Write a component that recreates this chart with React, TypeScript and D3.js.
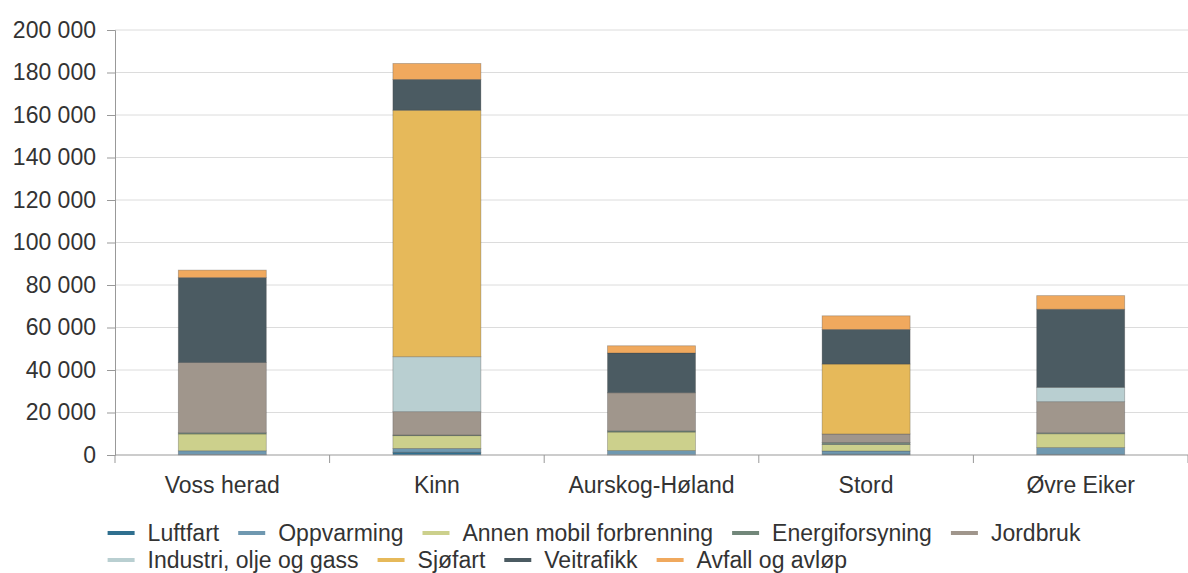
import React, { useEffect, useRef } from 'react';
import * as d3 from 'd3';

const categories = ['Voss herad', 'Kinn', 'Aurskog-Høland', 'Stord', 'Øvre Eiker'];
const seriesNames = [
  'Luftfart',
  'Oppvarming',
  'Annen mobil forbrenning',
  'Energiforsyning',
  'Jordbruk',
  'Industri, olje og gass',
  'Sjøfart',
  'Veitrafikk',
  'Avfall og avløp',
];
const seriesColors = [
  '#2f6f8f',
  '#6f98b0',
  '#ccd08c',
  '#72877a',
  '#a0968c',
  '#b9cfd1',
  '#e6b95a',
  '#4b5b62',
  '#f0a95e',
];
// one array per series, values per category
const luftfart = [200, 1300, 100, 400, 300];
const oppvarming = [1800, 1800, 2000, 1500, 3200];
const annenMobil = [7900, 6000, 8700, 3000, 6500];
const energi = [600, 300, 600, 1000, 500];
const jordbruk = [33000, 11000, 17900, 4000, 14600];
const industri = [0, 25850, 0, 0, 6750];
const sjofart = [0, 116000, 0, 32900, 0];
const veitrafikk = [40000, 14500, 18700, 16300, 36750];
const avfall = [3500, 7500, 3400, 6400, 6400];
const seriesValues = [luftfart, oppvarming, annenMobil, energi, jordbruk, industri, sjofart, veitrafikk, avfall];
const yTicks = [0, 20000, 40000, 60000, 80000, 100000, 120000, 140000, 160000, 180000, 200000];

const W = 1188;
const H = 573;
const FONT = '"Liberation Sans", Arial, sans-serif';
const FS = 23;

function StackedChart() {
  const ref = useRef<SVGSVGElement>(null);

  useEffect(() => {
    const svg = d3.select(ref.current);
    svg.selectAll('*').remove();

    const left = 115, right = 1188, top = 30, bottom = 455;
    const x = d3.scaleBand().domain(categories).range([left, right]).paddingInner(0.59).paddingOuter(0.295);
    const y = d3.scaleLinear().domain([0, 200000]).range([bottom, top]);

    const rows = categories.map((c, i) => {
      const r: any = { cat: c };
      seriesNames.forEach((s, j) => (r[s] = seriesValues[j][i]));
      return r;
    });
    const stacked = d3.stack().keys(seriesNames)(rows);

    // grid
    svg.append('g')
      .selectAll('line')
      .data(yTicks.filter(t => t > 0))
      .join('line')
      .attr('x1', left).attr('x2', right)
      .attr('y1', d => y(d)).attr('y2', d => y(d))
      .attr('stroke', '#dcdcdc').attr('stroke-width', 1);

    // y axis
    const gy = svg.append('g').attr('transform', `translate(${left},0)`)
      .call(d3.axisLeft(y).tickValues(yTicks).tickSize(8).tickPadding(11)
        .tickFormat(d => d3.format(',')(d as number).replace(/,/g, ' ')));
    gy.select('.domain').attr('stroke', '#999');
    gy.selectAll('.tick line').attr('stroke', '#999');
    gy.selectAll('text').attr('font-family', FONT).attr('font-size', FS).attr('fill', '#333');

    // bars
    svg.append('g')
      .selectAll('g')
      .data(stacked)
      .join('g')
      .attr('fill', (_, i) => seriesColors[i])
      .selectAll('rect')
      .data(d => d)
      .join('rect')
      .attr('x', d => x(d.data.cat as string)!)
      .attr('width', x.bandwidth())
      .attr('y', d => y(d[1]))
      .attr('height', d => Math.max(0, y(d[0]) - y(d[1])))
      .attr('stroke', 'rgba(60,60,60,0.35)')
      .attr('stroke-width', 0.8);

    // x axis
    const boundaries = d3.range(categories.length + 1).map(i => left + i * x.step());
    svg.append('line').attr('x1', left).attr('x2', right).attr('y1', bottom).attr('y2', bottom)
      .attr('stroke', '#999');
    svg.append('g').selectAll('line').data(boundaries).join('line')
      .attr('x1', d => d).attr('x2', d => d).attr('y1', bottom).attr('y2', bottom + 8)
      .attr('stroke', '#999');
    svg.append('g').selectAll('text').data(categories).join('text')
      .attr('x', d => x(d)! + x.bandwidth() / 2)
      .attr('y', 493)
      .attr('text-anchor', 'middle')
      .attr('font-family', FONT).attr('font-size', FS).attr('fill', '#333')
      .text(d => d);

    // legend
    const lg = svg.append('g');
    const items = seriesNames.map((name, i) => {
      const g = lg.append('g');
      g.append('line').attr('x1', 0).attr('x2', 27).attr('y1', -8).attr('y2', -8)
        .attr('stroke', seriesColors[i]).attr('stroke-width', 4);
      const t = g.append('text').attr('x', 40).attr('y', 0)
        .attr('font-family', FONT).attr('font-size', FS).attr('fill', '#333').text(name);
      const w = 40 + (t.node() as SVGTextElement).getComputedTextLength();
      return { g, w };
    });
    const maxW = 1060, gap = 19;
    const lines: { g: any; w: number }[][] = [[]];
    let cur = 0;
    items.forEach(it => {
      if (cur > 0 && cur + it.w > maxW) { lines.push([]); cur = 0; }
      lines[lines.length - 1].push(it);
      cur += it.w + gap;
    });
    const rowW = lines.map(l => d3.sum(l, d => d.w) + gap * (l.length - 1));
    const startX = (W - d3.max(rowW)!) / 2;
    lines.forEach((l, r) => {
      let xx = startX;
      l.forEach(it => {
        it.g.attr('transform', `translate(${xx},${541 + r * 27})`);
        xx += it.w + gap;
      });
    });
  }, []);

  return <svg ref={ref} width={W} height={H} style={{ display: 'block', background: '#fff' }} />;
}

export default function App() {
  return (
    <div style={{ position: 'fixed', left: 0, top: 0, width: W, height: H, overflow: 'hidden' }}>
      <StackedChart />
    </div>
  );
}
